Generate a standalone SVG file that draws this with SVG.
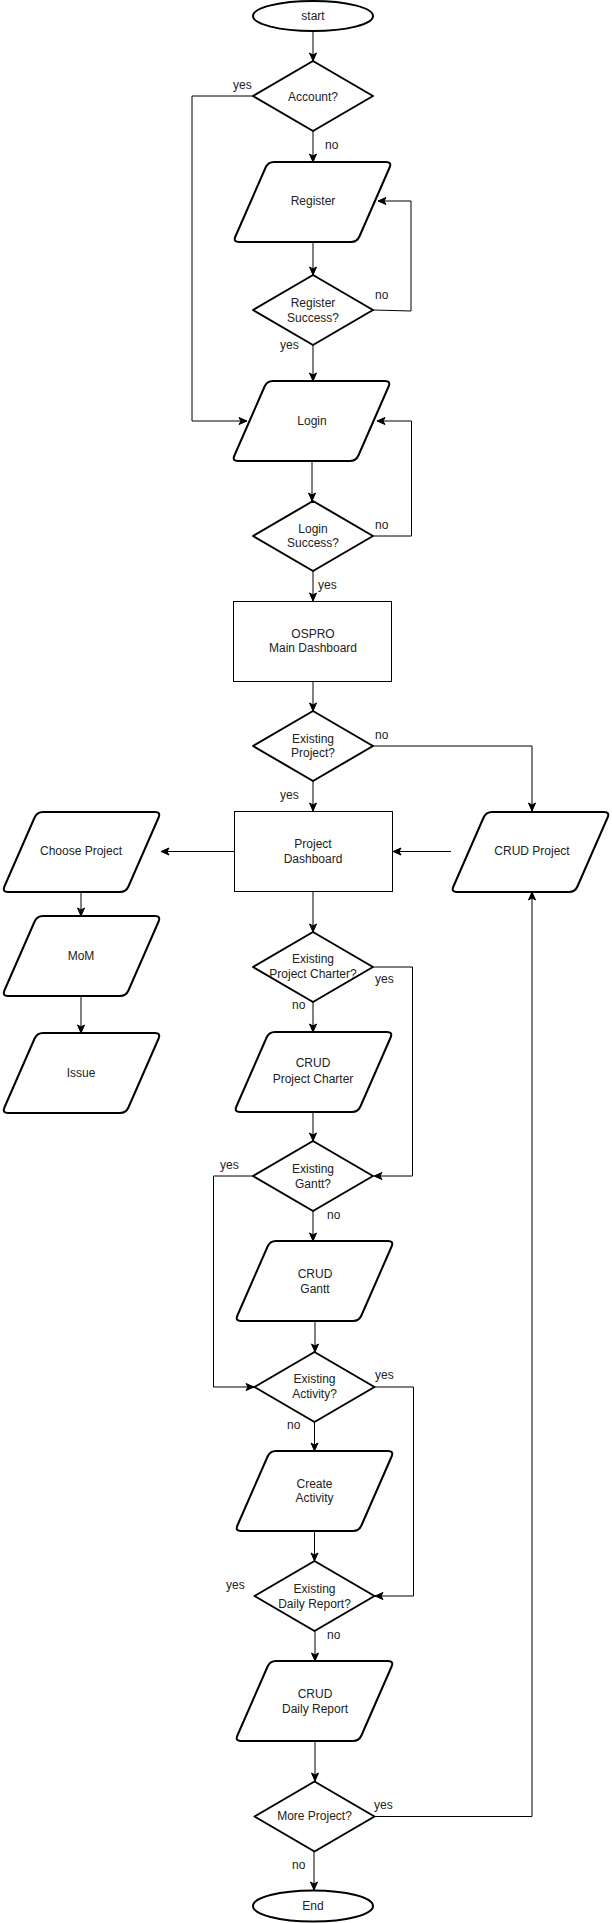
<svg xmlns="http://www.w3.org/2000/svg" width="612" height="1923" viewBox="0 0 612 1923">
<style>
.shape{fill:#fff;stroke:#000;stroke-width:2;stroke-linejoin:round}
.box{fill:#fff;stroke:#000;stroke-width:1}
.t{font-family:"Liberation Sans",Arial,sans-serif;font-size:12px;fill:#222;text-anchor:middle}
.l{font-family:"Liberation Sans",Arial,sans-serif;font-size:12px;fill:#222}
.c{fill:none;stroke:#000;stroke-width:1}
</style>
<defs>
<marker id="arr" markerUnits="userSpaceOnUse" markerWidth="10" markerHeight="10" viewBox="0 0 10 10" refX="9" refY="5" orient="auto">
<path d="M1,1.5 L9,5 L1,8.5 L3,5 Z" fill="#000" stroke="#000" stroke-width="1"/>
</marker>
<path id="para" d="M41,0 L153,0 Q159,0 156.6,5.5 L126.4,74.5 Q124,80 118,80 L6,80 Q0,80 2.4,74.5 L32.6,5.5 Q35,0 41,0 Z"/>
<path id="dia" d="M0,-35 L60,0 L0,35 L-60,0 Z"/>
</defs>
<rect width="612" height="1923" fill="#fff"/>

<g id="connectors">
<path class="c" marker-end="url(#arr)" d="M313,31 L313,61"/>
<path class="c" marker-end="url(#arr)" d="M313,131 L313,162"/>
<path class="c" marker-end="url(#arr)" d="M253,96 L192,96 L192,421 L247,421"/>
<path class="c" marker-end="url(#arr)" d="M313,241 L313,275"/>
<path class="c" marker-end="url(#arr)" d="M373,310 L411,311 L411,201 L378,201"/>
<path class="c" marker-end="url(#arr)" d="M313,345 L313,381"/>
<path class="c" marker-end="url(#arr)" d="M312,461 L312,501"/>
<path class="c" marker-end="url(#arr)" d="M373,536 L411.5,536 L411.5,421 L377,421"/>
<path class="c" marker-end="url(#arr)" d="M313,571 L313,601"/>
<path class="c" marker-end="url(#arr)" d="M313,682 L313,711"/>
<path class="c" marker-end="url(#arr)" d="M373,746 L532,746 L532,811"/>
<path class="c" marker-end="url(#arr)" d="M313,781 L313,811"/>
<path class="c" marker-end="url(#arr)" d="M234,851.5 L161,851.5"/>
<path class="c" marker-end="url(#arr)" d="M451,851.5 L393,851.5"/>
<path class="c" marker-end="url(#arr)" d="M81,892 L81,916"/>
<path class="c" marker-end="url(#arr)" d="M81,996 L81,1033"/>
<path class="c" marker-end="url(#arr)" d="M313,892 L313,932"/>
<path class="c" marker-end="url(#arr)" d="M373.5,967 L412.5,967 L412.5,1176 L374,1176"/>
<path class="c" marker-end="url(#arr)" d="M313,1002 L313,1032"/>
<path class="c" marker-end="url(#arr)" d="M313,1112 L313,1141"/>
<path class="c" marker-end="url(#arr)" d="M253,1176 L213.5,1176 L213.5,1387 L254,1387"/>
<path class="c" marker-end="url(#arr)" d="M313,1211 L313,1241"/>
<path class="c" marker-end="url(#arr)" d="M315,1321 L315,1352"/>
<path class="c" marker-end="url(#arr)" d="M375,1387 L413.5,1387 L413.5,1596 L375,1596"/>
<path class="c" marker-end="url(#arr)" d="M314.5,1422 L314.5,1451"/>
<path class="c" marker-end="url(#arr)" d="M314.5,1531 L314.5,1561"/>
<path class="c" marker-end="url(#arr)" d="M315,1631 L315,1661"/>
<path class="c" marker-end="url(#arr)" d="M315,1741 L315,1781"/>
<path class="c" marker-end="url(#arr)" d="M375,1816.5 L532,1816.5 L532,892"/>
<path class="c" marker-end="url(#arr)" d="M314,1851 L314,1890"/>
<text class="l" x="233" y="89">yes</text>
<text class="l" x="325" y="149">no</text>
<text class="l" x="375" y="299">no</text>
<text class="l" x="280" y="349">yes</text>
<text class="l" x="375" y="529">no</text>
<text class="l" x="318" y="589">yes</text>
<text class="l" x="375" y="739">no</text>
<text class="l" x="280" y="799">yes</text>
<text class="l" x="375" y="983">yes</text>
<text class="l" x="292" y="1009">no</text>
<text class="l" x="220" y="1169">yes</text>
<text class="l" x="327" y="1219">no</text>
<text class="l" x="375" y="1379">yes</text>
<text class="l" x="287" y="1429">no</text>
<text class="l" x="226" y="1589">yes</text>
<text class="l" x="327" y="1639">no</text>
<text class="l" x="374" y="1809">yes</text>
<text class="l" x="292" y="1869">no</text>
</g>

<g id="start"><ellipse class="shape" cx="313" cy="16" rx="60" ry="15"/><text class="t" x="313" y="20">start</text></g>
<g id="account"><use href="#dia" class="shape" x="313" y="96"/><text class="t" x="313" y="101">Account?</text></g>
<g id="register"><use href="#para" class="shape" x="233" y="162"/><text class="t" x="313" y="205">Register</text></g>
<g id="register-success"><use href="#dia" class="shape" x="313" y="310"/><text class="t" x="313" y="307">Register</text><text class="t" x="313" y="322">Success?</text></g>
<g id="login"><use href="#para" class="shape" x="232" y="381"/><text class="t" x="312" y="425">Login</text></g>
<g id="login-success"><use href="#dia" class="shape" x="313" y="536"/><text class="t" x="313" y="533">Login</text><text class="t" x="313" y="547">Success?</text></g>
<g id="main-dashboard"><rect class="box" x="233.5" y="601.5" width="158" height="80"/><text class="t" x="313" y="638">OSPRO</text><text class="t" x="313" y="652">Main Dashboard</text></g>
<g id="existing-project"><use href="#dia" class="shape" x="313" y="746"/><text class="t" x="313" y="743">Existing</text><text class="t" x="313" y="757">Project?</text></g>
<g id="project-dashboard"><rect class="box" x="234.5" y="811.5" width="158" height="80"/><text class="t" x="313" y="848">Project</text><text class="t" x="313" y="863">Dashboard</text></g>
<g id="choose-project"><use href="#para" class="shape" x="2" y="812"/><text class="t" x="81" y="855">Choose Project</text></g>
<g id="mom"><use href="#para" class="shape" x="2" y="916"/><text class="t" x="81" y="960">MoM</text></g>
<g id="issue"><use href="#para" class="shape" x="2" y="1033"/><text class="t" x="81" y="1077">Issue</text></g>
<g id="crud-project"><use href="#para" class="shape" x="451" y="812"/><text class="t" x="532" y="855">CRUD Project</text></g>
<g id="existing-charter"><use href="#dia" class="shape" x="313" y="967"/><text class="t" x="313" y="963">Existing</text><text class="t" x="313" y="978">Project Charter?</text></g>
<g id="crud-charter"><use href="#para" class="shape" x="234" y="1032"/><text class="t" x="313" y="1067">CRUD</text><text class="t" x="313" y="1083">Project Charter</text></g>
<g id="existing-gantt"><use href="#dia" class="shape" x="313" y="1176"/><text class="t" x="313" y="1173">Existing</text><text class="t" x="313" y="1188">Gantt?</text></g>
<g id="crud-gantt"><use href="#para" class="shape" x="235" y="1241"/><text class="t" x="315" y="1278">CRUD</text><text class="t" x="315" y="1293">Gantt</text></g>
<g id="existing-activity"><use href="#dia" class="shape" x="314.5" y="1387"/><text class="t" x="314.5" y="1383">Existing</text><text class="t" x="314.5" y="1398">Activity?</text></g>
<g id="create-activity"><use href="#para" class="shape" x="235" y="1451"/><text class="t" x="314.5" y="1488">Create</text><text class="t" x="314.5" y="1502">Activity</text></g>
<g id="existing-daily-report"><use href="#dia" class="shape" x="314.5" y="1596"/><text class="t" x="314.5" y="1593">Existing</text><text class="t" x="314.5" y="1608">Daily Report?</text></g>
<g id="crud-daily-report"><use href="#para" class="shape" x="235" y="1661"/><text class="t" x="315" y="1698">CRUD</text><text class="t" x="315" y="1713">Daily Report</text></g>
<g id="more-project"><use href="#dia" class="shape" x="314.5" y="1816.5"/><text class="t" x="314.5" y="1820">More Project?</text></g>
<g id="end"><ellipse class="shape" cx="313" cy="1906" rx="60" ry="15.5"/><text class="t" x="313" y="1910">End</text></g>
</svg>
